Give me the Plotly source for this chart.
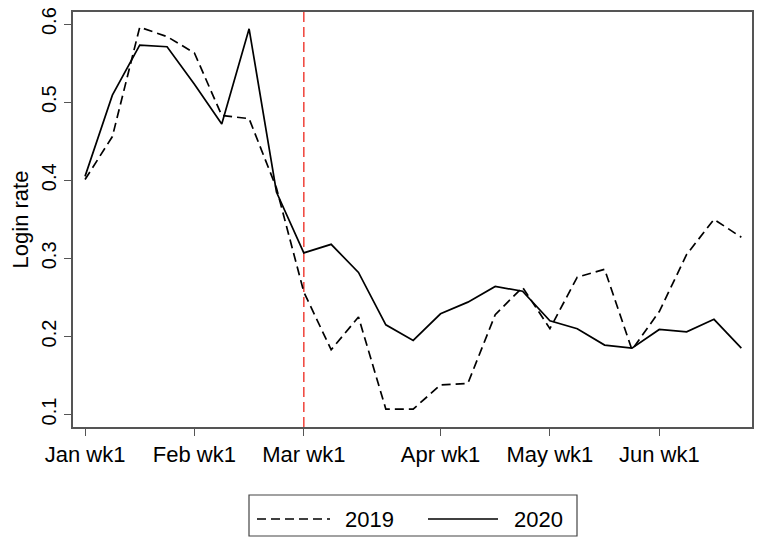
import plotly.graph_objects as go

weeks = list(range(1, 26))
tick_weeks = [1, 5, 9, 14, 18, 22]
tick_labels = ["Jan wk1", "Feb wk1", "Mar wk1", "Apr wk1", "May wk1", "Jun wk1"]

rate_2019 = [0.401, 0.456, 0.596, 0.584, 0.563, 0.483, 0.479, 0.390, 0.257, 0.183,
             0.225, 0.107, 0.107, 0.138, 0.140, 0.228, 0.263, 0.210, 0.276, 0.286,
             0.183, 0.232, 0.305, 0.350, 0.327]
rate_2020 = [0.405, 0.509, 0.573, 0.571, 0.523, 0.472, 0.594, 0.385, 0.307, 0.318,
             0.282, 0.215, 0.195, 0.229, 0.244, 0.264, 0.258, 0.220, 0.210, 0.189,
             0.185, 0.209, 0.206, 0.222, 0.185]
cutoff_week = 9

FONT = "Liberation Sans, Arial, Helvetica, sans-serif"
W, H = 757, 547
ML, MR, MT, MB = 73, 5, 12, 120
PW, PH = W - ML - MR, H - MT - MB


def px(x):
    return (x - ML) / PW


def py(y):
    return (H - MB - y) / PH


fig = go.Figure()
fig.add_trace(go.Scatter(x=weeks, y=rate_2019, mode="lines", name="2019",
                         line=dict(color="black", width=1.7, dash="9px,5px"),
                         showlegend=False))
fig.add_trace(go.Scatter(x=weeks, y=rate_2020, mode="lines", name="2020",
                         line=dict(color="black", width=1.7),
                         showlegend=False))

fig.add_shape(type="line", xref="x", yref="paper", x0=cutoff_week, x1=cutoff_week,
              y0=0, y1=1, line=dict(color="#f04d45", width=1.6, dash="10px,5px"),
              layer="below")

# legend box
fig.add_shape(type="rect", xref="paper", yref="paper", x0=px(249), x1=px(577),
              y0=py(536), y1=py(495), line=dict(color="#444", width=1.2),
              fillcolor="white")
fig.add_shape(type="line", xref="paper", yref="paper", x0=px(257), x1=px(330),
              y0=py(519), y1=py(519), line=dict(color="black", width=1.4, dash="9px,5px"))
fig.add_shape(type="line", xref="paper", yref="paper", x0=px(428), x1=px(498),
              y0=py(519), y1=py(519), line=dict(color="black", width=1.4))
fig.add_annotation(xref="paper", yref="paper", x=px(343), y=py(519), text="2019",
                   showarrow=False, xanchor="left", yanchor="middle",
                   font=dict(family=FONT, size=22, color="black"))
fig.add_annotation(xref="paper", yref="paper", x=px(512), y=py(519), text="2020",
                   showarrow=False, xanchor="left", yanchor="middle",
                   font=dict(family=FONT, size=22, color="black"))

axis_common = dict(showline=True, mirror=True, linecolor="#555", linewidth=1.5,
                   ticks="outside", ticklen=7, tickcolor="#555", tickwidth=1.2,
                   showgrid=False, zeroline=False, automargin=False)

fig.update_layout(
    width=W, height=H,
    margin=dict(l=ML, r=MR, t=MT, b=MB, pad=0),
    paper_bgcolor="white", plot_bgcolor="white",
    font=dict(family=FONT, color="black"),
    xaxis=dict(range=[0.56, 25.39], tickvals=tick_weeks, ticktext=tick_labels,
               tickfont=dict(size=22), **axis_common),
    yaxis=dict(range=[0.0841, 0.6155], tickvals=[0.1, 0.2, 0.3, 0.4, 0.5, 0.6],
               tickformat=".1f", tickangle=-90, tickfont=dict(size=20),
               title=dict(text="Login rate", font=dict(size=22), standoff=4),
               **axis_common),
    showlegend=False,
)

fig.write_html("out.html", config={"displayModeBar": False},
               post_script="document.body.style.margin='0';")
